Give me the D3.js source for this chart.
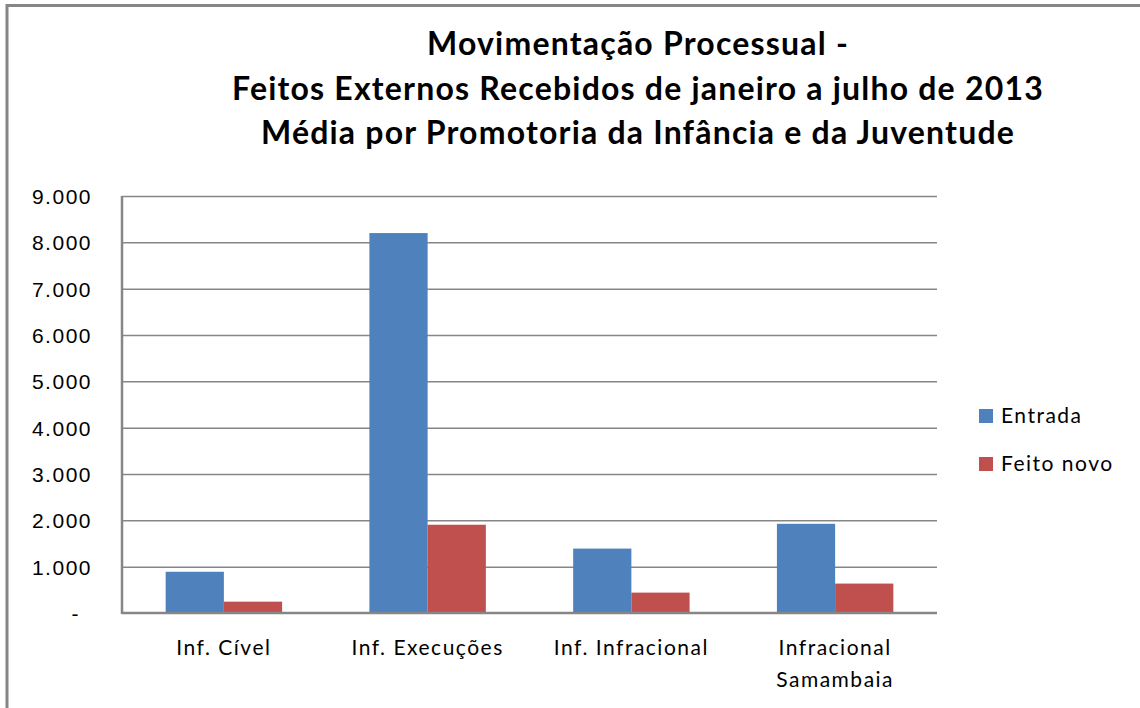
<!DOCTYPE html>
<html>
<head>
<meta charset="utf-8">
<script src="https://cdn.jsdelivr.net/npm/d3@7"></script>
<style>
  body { margin: 0; background: #fff; }
  svg { display: block; font-family: Lato, "Open Sans", sans-serif; }
  .axis path { display: none; }
  .axis line { stroke: #868686; stroke-width: 1.5; }
  .axis text { fill: #000; font-size: 21px; letter-spacing: 1.5px; }
  .lbl { font-size: 21px; letter-spacing: 1.5px; }
</style>
</head>
<body>
<svg id="chart" width="1140" height="708"></svg>
<script>
const titleLines = [
  "Movimentação Processual -",
  "Feitos Externos Recebidos de janeiro a julho de 2013",
  "Média por Promotoria da Infância e da Juventude"
];
const categories = ["Inf. Cível", "Inf. Execuções", "Inf. Infracional", "Infracional Samambaia"];
const seriesNames = ["Entrada", "Feito novo"];
const entrada = [890, 8200, 1390, 1925];
const feitoNovo = [245, 1905, 440, 635];
const yTicks = [0, 1000, 2000, 3000, 4000, 5000, 6000, 7000, 8000, 9000];
const colors = ["#4F81BD", "#C0504D"];

const PLOT = { left: 122, right: 937, top: 196, bottom: 613 };
const WIDTH = PLOT.right - PLOT.left;
const HEIGHT = PLOT.bottom - PLOT.top;

const ptBR = d3.formatLocale({ decimal: ",", thousands: ".", grouping: [3], currency: ["R$", ""] });
const fmt = d => (d === 0 ? "-" : ptBR.format(",d")(d));

const svg = d3.select("#chart");

// outer chart frame (right and bottom fall outside the picture)
svg.append("path")
  .attr("d", "M7,708 L7,5.5 L1140,5.5")
  .attr("fill", "none")
  .attr("stroke", "#868686")
  .attr("stroke-width", 3);

svg.append("g")
  .selectAll("text")
  .data(titleLines)
  .join("text")
  .attr("x", 638)
  .attr("y", (d, i) => 55 + i * 44.5)
  .attr("text-anchor", "middle")
  .attr("font-weight", "bold")
  .attr("font-size", 32)
  .attr("letter-spacing", "1.2px")
  .text(d => d);

const g = svg.append("g").attr("transform", `translate(${PLOT.left},${PLOT.top})`);

const y = d3.scaleLinear().domain([0, 9000]).range([HEIGHT, 0]);

const x0 = d3.scaleBand().domain(categories).range([0, WIDTH]).padding(0);
const x1 = d3.scaleBand()
  .domain(seriesNames)
  .range([0, x0.bandwidth()])
  .paddingInner(0)
  .paddingOuter(0.75);

const yAxis = d3.axisLeft(y)
  .tickValues(yTicks)
  .tickSize(-WIDTH)
  .tickPadding(30)
  .tickFormat(fmt);

const yg = g.append("g").attr("class", "axis y-axis").call(yAxis);
yg.selectAll("text").attr("x", -30).attr("dy", "0.35em");
yg.selectAll(".tick").filter(d => d === 0).select("text").attr("x", -42);
yg.selectAll(".tick").filter(d => d === 0).select("line").remove();

const rows = categories.map((c, i) => ({ cat: c, values: [entrada[i], feitoNovo[i]] }));

g.append("g")
  .selectAll("g")
  .data(rows)
  .join("g")
  .attr("transform", d => `translate(${x0(d.cat)},0)`)
  .selectAll("rect")
  .data(d => d.values.map((v, i) => ({ name: seriesNames[i], value: v, i })))
  .join("rect")
  .attr("x", d => x1(d.name))
  .attr("width", x1.bandwidth())
  .attr("y", d => y(d.value))
  .attr("height", d => y(0) - y(d.value))
  .attr("fill", d => colors[d.i]);

// axis lines
g.append("line")
  .attr("x1", 0).attr("x2", 0).attr("y1", 0).attr("y2", HEIGHT + 1)
  .attr("stroke", "#868686").attr("stroke-width", 2.5);
g.append("line")
  .attr("x1", 0).attr("x2", WIDTH).attr("y1", HEIGHT).attr("y2", HEIGHT)
  .attr("stroke", "#868686").attr("stroke-width", 2.5);

// category labels (wrap the long one)
const wrapLabel = c => (c.startsWith("Infracional ") ? c.split(" ") : [c]);
g.append("g")
  .selectAll("text")
  .data(categories)
  .join("text")
  .attr("class", "lbl")
  .attr("x", d => x0(d) + x0.bandwidth() / 2)
  .attr("y", HEIGHT + 42)
  .attr("text-anchor", "middle")
  .each(function(d) {
    d3.select(this)
      .selectAll("tspan")
      .data(wrapLabel(d))
      .join("tspan")
      .attr("x", x0(d) + x0.bandwidth() / 2)
      .attr("dy", (t, i) => (i === 0 ? 0 : 32))
      .text(t => t);
  });

// legend
const legend = svg.append("g").attr("transform", "translate(979,409)");
const item = legend.selectAll("g")
  .data(seriesNames)
  .join("g")
  .attr("transform", (d, i) => `translate(0,${i * 48})`);
item.append("rect")
  .attr("width", 14).attr("height", 14)
  .attr("fill", (d, i) => colors[i]);
item.append("text")
  .attr("class", "lbl")
  .attr("x", 22).attr("y", 14)
  .text(d => d);
</script>
</body>
</html>
